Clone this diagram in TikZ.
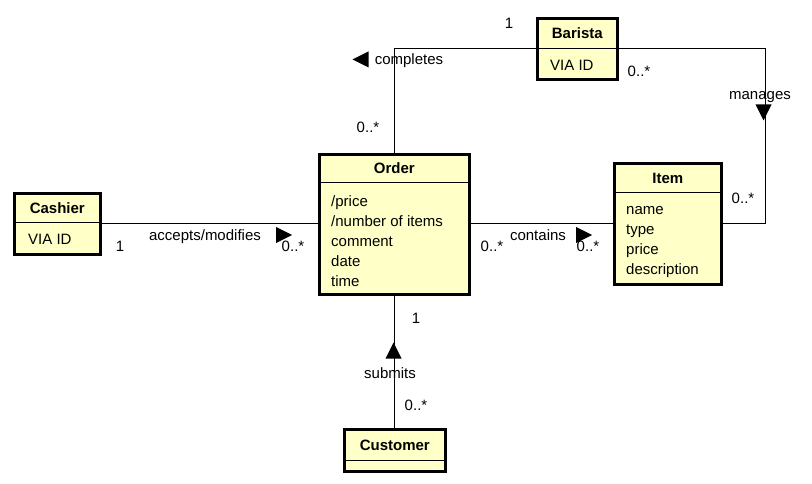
\documentclass[tikz,border=0pt]{standalone}
\usepackage{fontspec}
\setmainfont{Liberation Sans}
\usetikzlibrary{positioning, calc}
\definecolor{classfill}{RGB}{255,255,200}
\tikzset{
  classbox/.style={rectangle, draw=black, line width=2.6pt, fill=classfill, inner sep=0pt, anchor=north west},
  divider/.style={draw=black, line width=0.8pt},
  classname/.style={font=\bfseries\fontsize{15}{20}\selectfont, inner sep=0pt},
  attrs/.style={font=\fontsize{15}{20}\selectfont, align=left, anchor=west, inner sep=0pt},
  assoc/.style={draw=black, line width=1pt},
  role/.style={font=\fontsize{15}{20}\selectfont, inner sep=0pt, text height=10.5pt, text depth=3pt}
}
% caja de clase: nombre, x, y, ancho, alto, alto cabecera, titulo
\newcommand{\umlbox}[7]{
    \node[classbox, minimum width=#4pt, minimum height=#5pt] (#1) at (#2,#3) {};
    \draw[divider] ($(#1.north west)+(0,#6)$) -- ($(#1.north east)+(0,#6)$);
    \node[classname] (#1-title) at ($(#1.north)+(0,#6/2+1)$) {#7};
}
% flecha de lectura de la asociacion
\newcommand{\navmark}[3]{
    \fill[black, shift={(#1,#2)}, rotate=#3] (8,0) -- (-8,8) -- (-8,-8) -- cycle;
}
\begin{document}
\begin{tikzpicture}[x=1pt, y=-1pt]
        \useasboundingbox (0,0) rectangle (812,484);

        % 1. Clases
        \umlbox{order}{318}{153}{150}{140}{29}{Order}
        \node[attrs] (order-attrs) at (331,241) {/price\\/number of items\\comment\\date\\time};

        \umlbox{item}{613}{162}{107}{121}{30}{Item}
        \node[attrs] (item-attrs) at (626,242) {name\\type\\price\\description};

        \umlbox{cashier}{13}{192}{86}{61}{30}{Cashier}
        \node[attrs] (cashier-attrs) at (28,239) {VIA ID};

        \umlbox{barista}{536}{17}{80}{61}{31}{Barista}
        \node[attrs] (barista-attrs) at (550,65) {VIA ID};

        \umlbox{customer}{343}{428}{101}{42}{32}{Customer}

        % 2. Asociaciones
        \draw[assoc] (cashier.east) -- (cashier.east -| order.west);
        \draw[assoc] (order.east |- item.west) -- (item.west);
        \draw[assoc] (order.south) -- (order.south |- customer.north);
        \draw[assoc] (order.north) |- (barista.west);
        \coordinate (managebend) at ($(item.east)+(43,0)$);
        \draw[assoc] (barista.east) -| (managebend) -- (item.east);

        % 3. Nombres de asociacion y sentido de lectura
        \node[role] (completes) at (409,61) {completes};
        \navmark{360.5}{59.5}{180}
        \node[role] (manages) at (760,96) {manages};
        \navmark{763.5}{112.5}{-90}
        \node[role] (accepts) at (205,237) {accepts/modifies};
        \navmark{284}{235}{0}
        \node[role] (contains) at (538,237) {contains};
        \navmark{584}{235}{0}
        \node[role] (submits) at (390,375) {submits};
        \navmark{393.5}{350.5}{90}

        % 4. Multiplicidades
        \node[role] (m-barista-completes) at (509,25) {1};
        \node[role] (m-order-completes) at (368,129) {0..*};
        \node[role] (m-barista-manages) at (639,73) {0..*};
        \node[role] (m-item-manages) at (743,200) {0..*};
        \node[role] (m-cashier) at (120,248) {1};
        \node[role] (m-order-accepts) at (293,248) {0..*};
        \node[role] (m-order-contains) at (492,248) {0..*};
        \node[role] (m-item-contains) at (588,248) {0..*};
        \node[role] (m-order-submits) at (416,320) {1};
        \node[role] (m-customer) at (416,407) {0..*};

    \end{tikzpicture}
\end{document}
